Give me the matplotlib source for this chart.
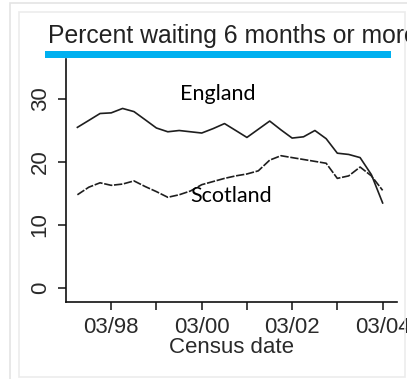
import numpy as np
import pandas as pd
import matplotlib
matplotlib.use("Agg")
from matplotlib import pyplot as plt
import matplotlib.dates as dt
from matplotlib.patches import Rectangle

# quarterly census dates, June 1997 to March 2004
census = pd.date_range("1997-06-01", "2004-03-01", freq="3MS")

england = [25.5, 26.6, 27.7, 27.8, 28.5, 28.0, 26.7, 25.4, 24.8, 25.0,
           24.8, 24.6, 25.3, 26.1, 25.0, 23.9, 25.2, 26.5, 25.1, 23.8,
           24.0, 25.0, 23.7, 21.4, 21.2, 20.7, 18.0, 13.5]
scotland = [14.8, 16.0, 16.7, 16.3, 16.5, 17.0, 16.1, 15.3, 14.4, 14.8,
            15.4, 16.4, 16.9, 17.4, 17.8, 18.1, 18.6, 20.3, 21.0, 20.7,
            20.4, 20.1, 19.8, 17.4, 17.8, 19.2, 17.8, 15.5]

y_ticks = [0, 10, 20, 30]
major_dates = pd.to_datetime(["1998-03-01", "2000-03-01", "2002-03-01", "2004-03-01"])
minor_dates = pd.to_datetime(["1999-03-01", "2001-03-01", "2003-03-01"])

title = "Percent waiting 6 months or more"
xlabel = "Census date"

W, H = 407, 379
fig = plt.figure(figsize=(W / 100, H / 100), dpi=100)
fig.patch.set_facecolor("white")

def px(x, y):
    return x / W, 1 - y / H

# light frames around the graph region
fig.patches.append(Rectangle(px(10, 420), 500 / W, 417 / H, transform=fig.transFigure,
                             fill=False, edgecolor="#e4e4e4", linewidth=1.2))
fig.patches.append(Rectangle(px(19, 377), 386 / W, 365 / H, transform=fig.transFigure,
                             fill=False, edgecolor="#ececec", linewidth=1.2))

ax = fig.add_axes([66 / W, 1 - 302 / H, (397 - 66) / W, (302 - 59) / H])
ax.set_facecolor("white")

ax.plot(census, england, "-", color="#1e1e1e", linewidth=1.2)
ax.plot(census, scotland, color="#1e1e1e", linewidth=1.2, linestyle=(0, (5, 1)))

ax.set_xlim(pd.Timestamp("1997-03-01"), pd.Timestamp("2004-06-25"))
ax.set_ylim(-2.22, 36.35)

ax.set_xticks(major_dates)
ax.set_xticks(minor_dates, minor=True)
ax.xaxis.set_major_formatter(dt.DateFormatter("%m/%y"))
ax.set_yticks(y_ticks)

for s in ["top", "right"]:
    ax.spines[s].set_visible(False)
for s in ["left", "bottom"]:
    ax.spines[s].set_linewidth(1.2)
    ax.spines[s].set_color("#111111")

lab_font = dict(family=["Liberation Sans", "DejaVu Sans"], size=16, color="#2a2a2a")
ax.tick_params(axis="both", which="both", length=6, width=1.1, color="#111111")
ax.tick_params(axis="x", pad=5)
ax.tick_params(axis="y", pad=5)
for t in ax.get_xticklabels():
    t.set_fontfamily(lab_font["family"])
    t.set_fontsize(lab_font["size"])
    t.set_color(lab_font["color"])
for t in ax.get_yticklabels():
    t.set_fontfamily(lab_font["family"])
    t.set_fontsize(lab_font["size"])
    t.set_color(lab_font["color"])
    t.set_rotation(90)
    t.set_verticalalignment("center")

ax.set_xlabel(xlabel, labelpad=-1, **lab_font)

# title with blue underline
fig.text(*px(48, 43), title, ha="left", va="baseline",
         family=["Liberation Sans", "DejaVu Sans"], size=17.8, color="#222222")
fig.patches.append(Rectangle(px(45, 58), (391 - 45) / W, 7 / H, transform=fig.transFigure,
                             facecolor="#00b0f0", edgecolor="none"))

# series labels
fig.text(*px(180, 100), "England", ha="left", va="baseline",
         family=["Lato", "DejaVu Sans"], size=15.5, color="black")
fig.text(*px(190, 202), "Scotland", ha="left", va="baseline",
         family=["Lato", "DejaVu Sans"], size=15.5, color="black")

fig.savefig("out.png", dpi=100)
